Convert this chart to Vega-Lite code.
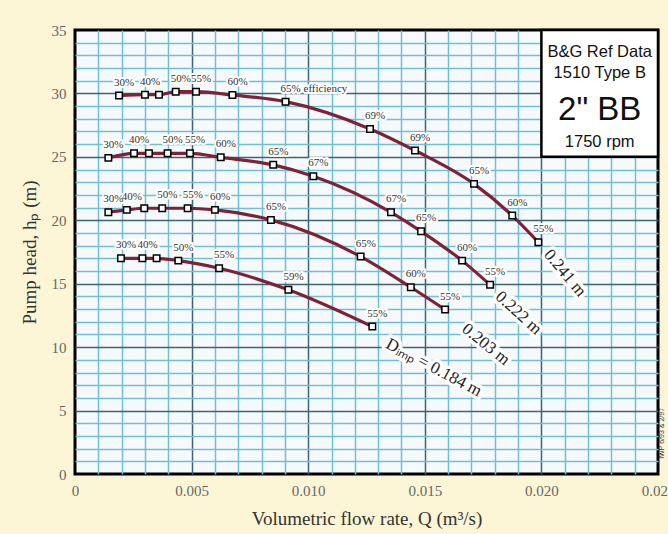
{
  "$schema": "https://vega.github.io/schema/vega-lite/v6.json",
  "width": 583,
  "height": 444,
  "autosize": {"type": "none"},
  "padding": {"left": 75, "top": 30, "right": 10, "bottom": 60},
  "config": {
    "background": "#fdf6d6",
    "view": {"fill": "#f6fafd", "stroke": "#000000", "strokeWidth": 3},
    "axis": {"labelFont": "Liberation Serif", "titleFont": "Liberation Serif", "labelFontSize": 15, "titleFontSize": 19, "titleFontWeight": "normal", "labelColor": "#666666", "titleColor": "#333333"}
  },
  "datasets": {
    "pts": [
      {"d": "0.241", "q": 0.00189, "h": 29.83, "eff": "30%"},
      {"d": "0.241", "q": 0.0030, "h": 29.9, "eff": "40%"},
      {"d": "0.241", "q": 0.0036, "h": 29.9, "eff": ""},
      {"d": "0.241", "q": 0.00432, "h": 30.14, "eff": "50%"},
      {"d": "0.241", "q": 0.00519, "h": 30.14, "eff": "55%"},
      {"d": "0.241", "q": 0.00675, "h": 29.88, "eff": "60%"},
      {"d": "0.241", "q": 0.00903, "h": 29.35, "eff": "65% efficiency"},
      {"d": "0.241", "q": 0.01265, "h": 27.2, "eff": "69%"},
      {"d": "0.241", "q": 0.01458, "h": 25.5, "eff": "69%"},
      {"d": "0.241", "q": 0.01711, "h": 22.87, "eff": "65%"},
      {"d": "0.241", "q": 0.01875, "h": 20.37, "eff": "60%"},
      {"d": "0.241", "q": 0.01987, "h": 18.27, "eff": "55%"},
      {"d": "0.222", "q": 0.00143, "h": 24.92, "eff": "30%"},
      {"d": "0.222", "q": 0.00253, "h": 25.28, "eff": "40%"},
      {"d": "0.222", "q": 0.00317, "h": 25.28, "eff": ""},
      {"d": "0.222", "q": 0.00397, "h": 25.28, "eff": "50%"},
      {"d": "0.222", "q": 0.00493, "h": 25.28, "eff": "55%"},
      {"d": "0.222", "q": 0.00625, "h": 24.96, "eff": "60%"},
      {"d": "0.222", "q": 0.0085, "h": 24.37, "eff": "65%"},
      {"d": "0.222", "q": 0.01022, "h": 23.47, "eff": "67%"},
      {"d": "0.222", "q": 0.01355, "h": 20.63, "eff": "67%"},
      {"d": "0.222", "q": 0.01484, "h": 19.13, "eff": "65%"},
      {"d": "0.222", "q": 0.0166, "h": 16.82, "eff": "60%"},
      {"d": "0.222", "q": 0.0178, "h": 14.91, "eff": "55%"},
      {"d": "0.203", "q": 0.00143, "h": 20.63, "eff": "30%"},
      {"d": "0.203", "q": 0.00222, "h": 20.82, "eff": "40%"},
      {"d": "0.203", "q": 0.00297, "h": 20.95, "eff": ""},
      {"d": "0.203", "q": 0.00374, "h": 20.95, "eff": "50%"},
      {"d": "0.203", "q": 0.00483, "h": 20.95, "eff": "55%"},
      {"d": "0.203", "q": 0.006, "h": 20.82, "eff": "60%"},
      {"d": "0.203", "q": 0.0084, "h": 20.03, "eff": "65%"},
      {"d": "0.203", "q": 0.01225, "h": 17.14, "eff": "65%"},
      {"d": "0.203", "q": 0.0144, "h": 14.72, "eff": "60%"},
      {"d": "0.203", "q": 0.01587, "h": 12.96, "eff": "55%"},
      {"d": "0.184", "q": 0.00197, "h": 17.0, "eff": "30%"},
      {"d": "0.184", "q": 0.00289, "h": 17.0, "eff": "40%"},
      {"d": "0.184", "q": 0.0035, "h": 17.0, "eff": ""},
      {"d": "0.184", "q": 0.00443, "h": 16.82, "eff": "50%"},
      {"d": "0.184", "q": 0.00618, "h": 16.22, "eff": "55%"},
      {"d": "0.184", "q": 0.00915, "h": 14.52, "eff": "59%"},
      {"d": "0.184", "q": 0.01275, "h": 11.62, "eff": "55%"}
    ],
    "dlab": [
      {"d": "0.241", "q": 0.02101, "h": 15.84, "text": "0.241 m"},
      {"d": "0.222", "q": 0.01902, "h": 12.69, "text": "0.222 m"},
      {"d": "0.203", "q": 0.01762, "h": 10.21, "text": "0.203 m"},
      {"d": "0.184", "q": 0.01539, "h": 8.39, "text": "Dᵢₘₚ = 0.184 m"}
    ],
    "box": [{"q": 0.020, "q2": 0.025, "h": 25, "h2": 35}],
    "boxtext": [
      {"kind": "small", "q": 0.0225, "h": 33.27, "text": "B&G Ref Data"},
      {"kind": "small", "q": 0.0225, "h": 31.61, "text": "1510 Type B"},
      {"kind": "big", "q": 0.0225, "h": 28.69, "text": "2\" BB"},
      {"kind": "small", "q": 0.0225, "h": 26.17, "text": "1750 rpm"}
    ],
    "note": [{"q": 0.02518, "h": 3.2, "text": "IWP 6/93 & 2/97"}]
  },
  "encoding": {
    "x": {
      "field": "q", "type": "quantitative",
      "scale": {"domain": [0, 0.025], "nice": false, "zero": false},
      "axis": {
        "title": "Volumetric flow rate, Q (m³/s)",
        "values": [0, 0.001, 0.002, 0.003, 0.004, 0.005, 0.006, 0.007, 0.008, 0.009, 0.010, 0.011, 0.012, 0.013, 0.014, 0.015, 0.016, 0.017, 0.018, 0.019, 0.020, 0.021, 0.022, 0.023, 0.024, 0.025],
        "labelExpr": "round(datum.value*1000) % 5 == 0 ? (datum.value == 0 ? '0' : format(datum.value, '.3f')) : ''",
        "labelOverlap": false, "labelFlush": false,
        "ticks": false, "domain": false, "labelPadding": 9, "titlePadding": 11,
        "grid": true,
        "gridColor": {"condition": {"test": "round(datum.value*1000) % 5 == 0", "value": "#3c6474"}, "value": "#6fc0d4"},
        "gridOpacity": {"condition": {"test": "datum.value < 0.0005 || datum.value > 0.0245", "value": 0}, "value": 1},
        "gridWidth": 1.5
      }
    },
    "y": {
      "field": "h", "type": "quantitative",
      "scale": {"domain": [0, 35], "nice": false},
      "axis": {
        "title": "Pump head, hₚ  (m)",
        "values": [0,1,2,3,4,5,6,7,8,9,10,11,12,13,14,15,16,17,18,19,20,21,22,23,24,25,26,27,28,29,30,31,32,33,34,35],
        "labelExpr": "datum.value % 5 == 0 ? datum.label : ''",
        "labelOverlap": false, "labelFlush": false,
        "ticks": false, "domain": false, "labelPadding": 9, "titlePadding": 12,
        "grid": true,
        "gridColor": {"condition": {"test": "datum.value % 5 == 0", "value": "#3c6474"}, "value": "#6fc0d4"},
        "gridOpacity": {"condition": {"test": "datum.value == 0 || datum.value == 35", "value": 0}, "value": 1},
        "gridWidth": 1.5
      }
    }
  },
  "layer": [
    {
      "data": {"name": "box"},
      "mark": {"type": "rect", "fill": "#ffffff", "stroke": "#000000", "strokeWidth": 2.5},
      "encoding": {"x2": {"field": "q2"}, "y2": {"field": "h2"}}
    },
    {
      "data": {"name": "pts"},
      "mark": {"type": "line", "color": "#7e2236", "strokeWidth": 3.2, "interpolate": "monotone"},
      "encoding": {"detail": {"field": "d"}, "order": {"field": "q", "type": "quantitative"}}
    },
    {
      "data": {"name": "pts"},
      "mark": {"type": "point", "shape": "square", "filled": true, "fill": "#ffffff", "stroke": "#000000", "strokeWidth": 1.5, "size": 42, "opacity": 1}
    },
    {
      "data": {"name": "pts"},
      "mark": {"type": "text", "font": "Liberation Serif", "fontSize": 11, "align": "left", "baseline": "middle", "dx": -5, "dy": -13, "fill": "#ffffff", "stroke": "#ffffff", "strokeWidth": 4, "strokeJoin": "round"},
      "encoding": {"text": {"field": "eff"}}
    },
    {
      "data": {"name": "pts"},
      "mark": {"type": "text", "font": "Liberation Serif", "fontSize": 11, "align": "left", "baseline": "middle", "dx": -5, "dy": -13, "color": "#333333"},
      "encoding": {"text": {"field": "eff"}}
    },
    {
      "data": {"name": "dlab"},
      "transform": [{"filter": "datum.d == '0.241'"}],
      "layer": [
        {"mark": {"type": "text", "font": "Liberation Serif", "fontSize": 17, "angle": 50, "align": "center", "baseline": "middle", "fill": "#ffffff", "stroke": "#ffffff", "strokeWidth": 7, "strokeJoin": "round"}, "encoding": {"text": {"field": "text"}}},
        {"mark": {"type": "text", "font": "Liberation Serif", "fontSize": 17, "angle": 50, "align": "center", "baseline": "middle", "color": "#222222"}, "encoding": {"text": {"field": "text"}}}
      ]
    },
    {
      "data": {"name": "dlab"},
      "transform": [{"filter": "datum.d == '0.222'"}],
      "layer": [
        {"mark": {"type": "text", "font": "Liberation Serif", "fontSize": 17, "angle": 42, "align": "center", "baseline": "middle", "fill": "#ffffff", "stroke": "#ffffff", "strokeWidth": 7, "strokeJoin": "round"}, "encoding": {"text": {"field": "text"}}},
        {"mark": {"type": "text", "font": "Liberation Serif", "fontSize": 17, "angle": 42, "align": "center", "baseline": "middle", "color": "#222222"}, "encoding": {"text": {"field": "text"}}}
      ]
    },
    {
      "data": {"name": "dlab"},
      "transform": [{"filter": "datum.d == '0.203'"}],
      "layer": [
        {"mark": {"type": "text", "font": "Liberation Serif", "fontSize": 17, "angle": 39, "align": "center", "baseline": "middle", "fill": "#ffffff", "stroke": "#ffffff", "strokeWidth": 7, "strokeJoin": "round"}, "encoding": {"text": {"field": "text"}}},
        {"mark": {"type": "text", "font": "Liberation Serif", "fontSize": 17, "angle": 39, "align": "center", "baseline": "middle", "color": "#222222"}, "encoding": {"text": {"field": "text"}}}
      ]
    },
    {
      "data": {"name": "dlab"},
      "transform": [{"filter": "datum.d == '0.184'"}],
      "layer": [
        {"mark": {"type": "text", "font": "Liberation Serif", "fontSize": 17, "angle": 28, "align": "center", "baseline": "middle", "fill": "#ffffff", "stroke": "#ffffff", "strokeWidth": 7, "strokeJoin": "round"}, "encoding": {"text": {"field": "text"}}},
        {"mark": {"type": "text", "font": "Liberation Serif", "fontSize": 17, "angle": 28, "align": "center", "baseline": "middle", "color": "#222222"}, "encoding": {"text": {"field": "text"}}}
      ]
    },
    {
      "data": {"name": "boxtext"},
      "transform": [{"filter": "datum.kind == 'small'"}],
      "mark": {"type": "text", "font": "Liberation Sans", "fontSize": 16.5, "align": "center", "baseline": "middle", "color": "#111111"},
      "encoding": {"text": {"field": "text"}}
    },
    {
      "data": {"name": "boxtext"},
      "transform": [{"filter": "datum.kind == 'big'"}],
      "mark": {"type": "text", "font": "Liberation Sans", "fontSize": 33, "align": "center", "baseline": "middle", "color": "#111111"},
      "encoding": {"text": {"field": "text"}}
    },
    {
      "data": {"name": "note"},
      "mark": {"type": "text", "font": "Liberation Sans", "fontSize": 7, "angle": -90, "align": "center", "baseline": "middle", "color": "#333333"},
      "encoding": {"text": {"field": "text"}}
    }
  ]
}
